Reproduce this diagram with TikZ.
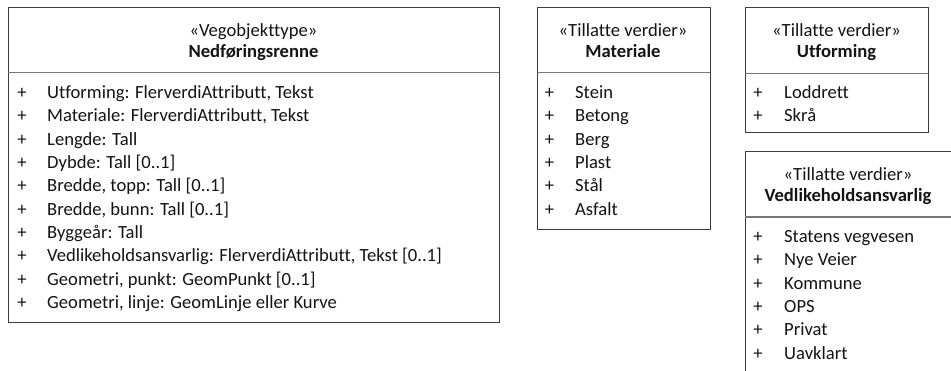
\documentclass[tikz,border=0pt]{standalone}
\usepackage{fontspec}
\setmainfont[Ligatures=NoCommon]{Carlito}
\definecolor{linec}{RGB}{60,60,60}
\definecolor{divc}{RGB}{120,120,120}
\definecolor{txtc}{RGB}{20,20,20}
\begin{document}
\begin{tikzpicture}[x=1pt,y=-1pt,
  box/.style={draw=linec,line width=1pt,fill=white,rectangle,anchor=north west,inner sep=0pt},
  div/.style={draw=divc,line width=1.2pt},
  txt/.style={inner sep=0pt,text=txtc,font=\fontsize{18.6}{22}\selectfont},
  item/.style={txt,anchor=base west},
  plus/.style={txt,anchor=base},
  head/.style={txt,anchor=base},
  headb/.style={txt,anchor=base,font=\fontsize{18.6}{22}\selectfont\bfseries}]
\useasboundingbox (0,0) rectangle (951,371);
\clip (0,0) rectangle (951,371);
% Box 1
\node[box,minimum width=491pt,minimum height=315pt] (b1) at (8,7.5) {};
\draw[div] (8,72.5) -- (499,72.5);
\node[head] (h1a) at (253.5,36.5) {«Vegobjekttype»};
\node[headb] (h1b) at (253.5,58) {Nedføringsrenne};
\foreach \t [count=\i] in {{Utforming: FlerverdiAttributt, Tekst},{Materiale: FlerverdiAttributt, Tekst},Lengde: Tall,Dybde: Tall [0..1],{Bredde, topp: Tall [0..1]},{Bredde, bunn: Tall [0..1]},Byggeår: Tall,{Vedlikeholdsansvarlig: FlerverdiAttributt, Tekst [0..1]},{Geometri, punkt: GeomPunkt [0..1]},{Geometri, linje: GeomLinje eller Kurve}}{
  \node[plus] (p1\i) at (22,{98.5+23.35*(\i-1)}) {+};
  \node[item] (a1\i) at (47,{98.5+23.35*(\i-1)}) {\t};
}
% Box 2
\node[box,minimum width=173pt,minimum height=222pt] (b2) at (536.5,7.5) {};
\draw[div] (536.5,72.5) -- (709.5,72.5);
\node[head] (h2a) at (623,36.5) {«Tillatte verdier»};
\node[headb] (h2b) at (623,58) {Materiale};
\foreach \t [count=\i] in {Stein,Betong,Berg,Plast,Stål,Asfalt}{
  \node[plus] (p2\i) at (549.5,{98.5+23.35*(\i-1)}) {+};
  \node[item] (a2\i) at (575,{98.5+23.35*(\i-1)}) {\t};
}
% Box 3
\node[box,minimum width=183pt,minimum height=125pt] (b3) at (745,7.5) {};
\draw[div] (745,73.5) -- (928,73.5);
\node[head] (h3a) at (836.5,36.5) {«Tillatte verdier»};
\node[headb] (h3b) at (836.5,58) {Utforming};
\foreach \t [count=\i] in {Loddrett,Skrå}{
  \node[plus] (p3\i) at (758,{98.5+23.35*(\i-1)}) {+};
  \node[item] (a3\i) at (784,{98.5+23.35*(\i-1)}) {\t};
}
% Box 4
\node[box,minimum width=215pt,minimum height=230pt] (b4) at (745,151.5) {};
\draw[div] (745,217) -- (960,217);
\node[head] (h4a) at (848,180.5) {«Tillatte verdier»};
\node[headb] (h4b) at (848,202) {Vedlikeholdsansvarlig};
\foreach \t [count=\i] in {Statens vegvesen,Nye Veier,Kommune,OPS,Privat,Uavklart}{
  \node[plus] (p4\i) at (758,{242.5+23.35*(\i-1)}) {+};
  \node[item] (a4\i) at (784,{242.5+23.35*(\i-1)}) {\t};
}
\end{tikzpicture}
\end{document}
